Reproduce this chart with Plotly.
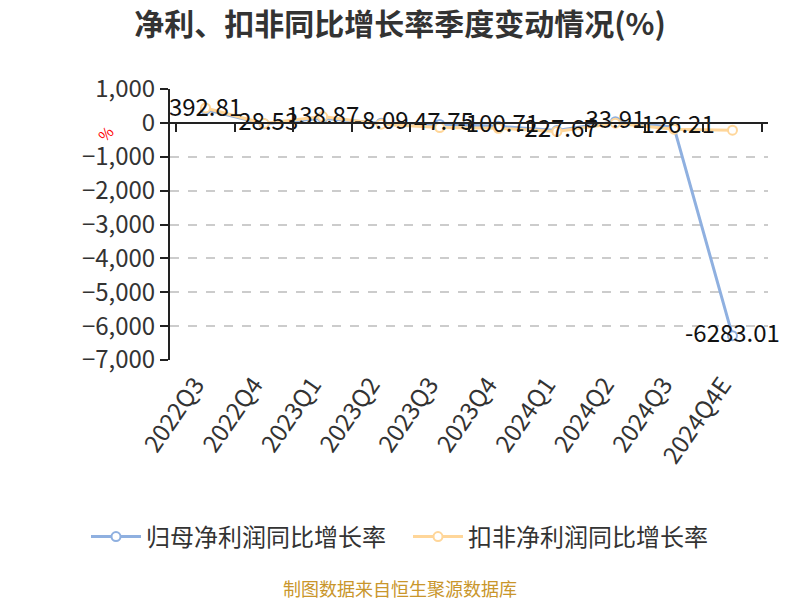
import plotly.graph_objects as go

# 数据
quarters = ["2022Q3", "2022Q4", "2023Q1", "2023Q2", "2023Q3",
            "2023Q4", "2024Q1", "2024Q2", "2024Q3", "2024Q4E"]
net_profit_yoy = [392.81, -28.53, 138.87, -8.09, -47.75,
                  -100.71, -227.67, 33.91, -126.21, -6283.01]
deducted_yoy = [440, -20, 185, -40, -140,
                -160, -255, -10, -185, -215]

font_cn = "Noto Sans CJK SC"
blue = "#8FB0E0"
orange = "#FFD699"

fig = go.Figure()

fig.add_trace(go.Scatter(
    x=quarters, y=net_profit_yoy, name="归母净利润同比增长率",
    mode="lines+markers", legend="legend",
    line=dict(color=blue, width=3),
    marker=dict(size=9, color="white", line=dict(color=blue, width=2)),
))
fig.add_trace(go.Scatter(
    x=quarters, y=deducted_yoy, name="扣非净利润同比增长率",
    mode="lines+markers", legend="legend2",
    line=dict(color=orange, width=3),
    marker=dict(size=9, color="white", line=dict(color=orange, width=2)),
))
# 数据标签放在最上层
fig.add_trace(go.Scatter(
    x=quarters, y=net_profit_yoy, mode="text",
    text=[f"{v:.2f}" for v in net_profit_yoy],
    textposition="middle center", cliponaxis=False,
    textfont=dict(family=font_cn, size=24, color="#111"),
    showlegend=False, hoverinfo="skip",
))
# 零轴线（带刻度）
fig.add_trace(go.Scatter(
    x=quarters, y=[None] * len(quarters), xaxis="x2",
    mode="none", showlegend=False, hoverinfo="skip",
))

legend_style = dict(
    orientation="h", xref="container", xanchor="left",
    y=1 - 537 / 600, yref="container", yanchor="middle",
    font=dict(size=24, color="#333"), itemwidth=50,
)

fig.update_layout(
    width=800, height=600,
    paper_bgcolor="white", plot_bgcolor="white",
    margin=dict(l=170, r=32, t=89, b=240),
    font=dict(family=font_cn, color="#333"),
    title=dict(
        text="<b>净利、扣非同比增长率季度变动情况(%)</b>",
        x=0.5, xref="container", xanchor="center",
        y=1 - 24 / 600, yref="container", yanchor="middle",
        font=dict(size=30, color="#333"),
    ),
    xaxis=dict(
        type="category", showline=False, ticks="", showgrid=False,
        tickangle=-55, tickfont=dict(size=24, color="#333"),
        ticklabelshift=-10, ticklabelstandoff=5,
        zeroline=False, automargin=False,
    ),
    xaxis2=dict(
        type="category", overlaying="x", matches="x",
        anchor="free", position=0.875,
        showline=True, linecolor="#222", linewidth=2,
        ticks="outside", ticklen=8, tickcolor="#222", tickwidth=2,
        tickson="boundaries", showticklabels=False, showgrid=False,
        automargin=False,
    ),
    yaxis=dict(
        range=[-7000, 1000], dtick=1000, tickformat=",",
        showline=True, linecolor="#222", linewidth=2,
        ticks="outside", ticklen=8, tickcolor="#222", tickwidth=2,
        showgrid=True, gridcolor="#CCCCCC", griddash="dash", gridwidth=1.5,
        zeroline=False, tickfont=dict(size=24, color="#333"),
        automargin=False,
    ),
    legend=dict(legend_style, x=86 / 800),
    legend2=dict(legend_style, x=408 / 800),
    annotations=[
        dict(text="%", xref="paper", yref="paper", x=-0.109, y=(360 - 133) / 271,
             xanchor="center", yanchor="middle",
             showarrow=False, textangle=-45,
             font=dict(size=15, color="red")),
        dict(text="制图数据来自恒生聚源数据库", xref="paper", yref="paper",
             x=(400 - 170) / 598, y=(360 - 588) / 271,
             xanchor="center", yanchor="middle", showarrow=False,
             font=dict(size=18, color="#C9962B")),
    ],
)

# 去掉页面默认边距
fig.write_html("out.html", config={"displayModeBar": False},
               post_script="document.body.style.margin='0';")
